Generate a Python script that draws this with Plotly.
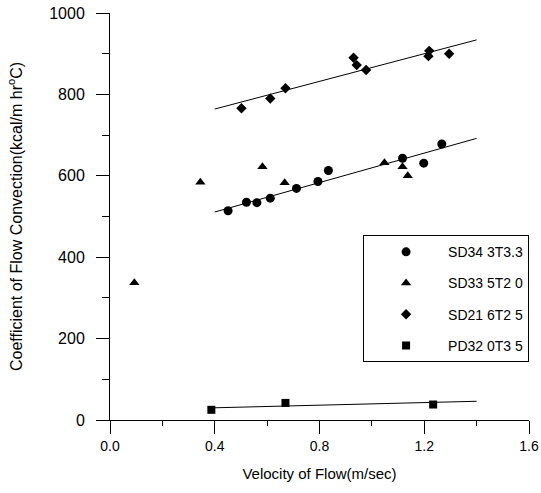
import plotly.graph_objects as go

# data
circ_x = [0.451, 0.521, 0.561, 0.612, 0.712, 0.794, 0.834, 1.117, 1.198, 1.267]
circ_y = [514, 535, 534, 545, 569, 586, 613, 643, 631, 678]

tri_x = [0.093, 0.345, 0.582, 0.667, 1.048, 1.117, 1.137]
tri_y = [337, 584, 622, 583, 632, 622, 600]

dia_x = [0.502, 0.612, 0.670, 0.930, 0.942, 0.978, 1.219, 1.216, 1.295]
dia_y = [766, 790, 815, 890, 872, 860, 907, 894, 900]

sq_x = [0.387, 0.670, 1.234]
sq_y = [25, 42, 38]

# fitted lines (end points)
fit_x = [0.40, 1.40]
circ_fit = [511, 692]
dia_fit = [764, 934]
sq_fit = [30, 46]

names = ["SD34 3T3.3", "SD33 5T2 0", "SD21 6T2 5", "PD32 0T3 5"]

font = "Liberation Sans, Arial, sans-serif"

fig = go.Figure()

# fit lines first so markers sit on top
for fy in [dia_fit, circ_fit, sq_fit]:
    fig.add_trace(go.Scatter(x=fit_x, y=fy, mode="lines",
                             line=dict(color="black", width=1),
                             showlegend=False, hoverinfo="skip"))

series = [(circ_x, circ_y, "circle", 9),
          (tri_x, tri_y, "triangle-up", 9),
          (dia_x, dia_y, "diamond", 8),
          (sq_x, sq_y, "square", 8)]
for i, (sx, sy, sym, sz) in enumerate(series):
    fig.add_trace(go.Scatter(x=sx, y=sy, mode="markers", name=names[i],
                             legendgroup=names[i],
                             marker=dict(symbol=sym, size=sz, color="black")))

fig.update_xaxes(range=[0, 1.6], dtick=0.4, tickformat=".1f",
                 showline=True, linecolor="black", linewidth=1,
                 ticks="outside", ticklen=13, tickcolor="black",
                 minor=dict(dtick=0.2, ticks="outside", ticklen=5, tickcolor="black"),
                 showgrid=False, zeroline=False, ticklabeloverflow="allow",
                 tickfont=dict(size=14, color="black"),
                 title=dict(text="Velocity of Flow(m/sec)", font=dict(size=15, color="black"),
                            standoff=15))
fig.update_yaxes(range=[0, 1000], dtick=200,
                 showline=True, linecolor="black", linewidth=1,
                 ticks="outside", ticklen=13, tickcolor="black",
                 minor=dict(dtick=100, ticks="outside", ticklen=7, tickcolor="black"),
                 showgrid=False, zeroline=False, ticklabelstandoff=8,
                 ticklabeloverflow="allow",
                 tickfont=dict(size=16, color="black"),
                 title=dict(text="Coefficient of Flow Convection(kcal/m hr<sup>o</sup>C)",
                            font=dict(size=16, color="black"), standoff=22))

fig.update_layout(
    width=541, height=493,
    margin=dict(l=110, r=12, t=13, b=73, autoexpand=False),
    plot_bgcolor="white", paper_bgcolor="white",
    font=dict(family=font, color="black"),
    legend=dict(x=0.604, y=0.454, xanchor="left", yanchor="top",
                bordercolor="black", borderwidth=1, bgcolor="white",
                font=dict(size=14), itemwidth=74, tracegroupgap=10),
)

# drop the default body margin so the figure fills the window exactly
fig.write_html("out.html", config={"displayModeBar": False},
               post_script="document.body.style.margin='0';document.body.style.overflow='hidden';")
